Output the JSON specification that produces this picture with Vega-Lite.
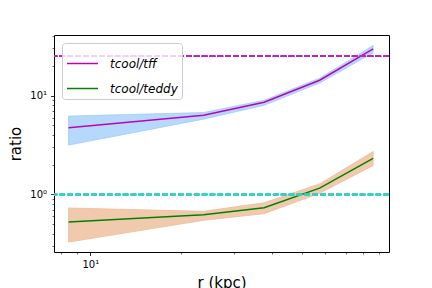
{
  "$schema": "https://vega.github.io/schema/vega-lite/v6.json",
  "autosize": "none",
  "width": 335,
  "height": 217,
  "padding": {"left": 54, "top": 35, "right": 43, "bottom": 36},
  "background": "white",
  "config": {
    "view": {"stroke": "black", "strokeWidth": 1},
    "font": "DejaVu Sans",
    "axis": {"grid": false, "domain": false, "tickColor": "black", "labelColor": "black", "titleColor": "black", "labelFont": "DejaVu Sans", "titleFont": "DejaVu Sans", "titleFontWeight": "normal", "labelFontSize": 10, "titleFontSize": 15}
  },
  "data": {
    "values": [
      {"series": "tcool/tff", "r": 8.47, "y": 4.72, "lo": 3.16, "hi": 6.2},
      {"series": "tcool/tff", "r": 23.7, "y": 6.34, "lo": 5.78, "hi": 6.74},
      {"series": "tcool/tff", "r": 37.6, "y": 8.57, "lo": 7.98, "hi": 8.97},
      {"series": "tcool/tff", "r": 57.4, "y": 14.3, "lo": 13.4, "hi": 15.0},
      {"series": "tcool/tff", "r": 86.3, "y": 29.7, "lo": 27.1, "hi": 32.1},
      {"series": "tcool/teddy", "r": 8.47, "y": 0.527, "lo": 0.33, "hi": 0.73},
      {"series": "tcool/teddy", "r": 23.7, "y": 0.625, "lo": 0.548, "hi": 0.675},
      {"series": "tcool/teddy", "r": 37.6, "y": 0.735, "lo": 0.64, "hi": 0.825},
      {"series": "tcool/teddy", "r": 57.4, "y": 1.16, "lo": 1.03, "hi": 1.28},
      {"series": "tcool/teddy", "r": 86.3, "y": 2.32, "lo": 1.96, "hi": 2.72}
    ]
  },
  "resolve": {"axis": {"x": "independent", "y": "independent"}, "legend": {"color": "independent", "fill": "independent", "stroke": "independent"}},
  "layer": [
    {
      "mark": {"type": "area", "strokeWidth": 0.8},
      "encoding": {
        "x": {"field": "r", "type": "quantitative", "scale": {"type": "log", "domain": [7.58, 97.4], "nice": false, "zero": false},
              "axis": {"orient": "bottom", "values": [8, 9, 20, 30, 40, 50, 60, 70, 80, 90], "labels": false, "tickSize": 2, "tickWidth": 0.6, "title": null}},
        "y": {"field": "lo", "type": "quantitative", "scale": {"type": "log", "domain": [0.262, 41], "nice": false, "zero": false},
              "axis": {"orient": "left", "values": [0.3, 0.4, 0.5, 0.6, 0.7, 0.8, 0.9, 2, 3, 4, 5, 6, 7, 8, 9, 20, 30, 40], "labels": false, "tickSize": 2, "tickWidth": 0.6, "title": null}},
        "y2": {"field": "hi"},
        "fill": {"field": "series", "type": "nominal", "scale": {"domain": ["tcool/tff", "tcool/teddy"], "range": ["#b5d8fb", "#f1caae"]}, "legend": null},
        "stroke": {"field": "series", "type": "nominal", "scale": {"domain": ["tcool/tff", "tcool/teddy"], "range": ["#9fcdf8", "#ebbc9b"]}, "legend": null}
      }
    },
    {
      "mark": {"type": "line", "strokeWidth": 1.5},
      "encoding": {
        "x": {"field": "r", "type": "quantitative", "scale": {"type": "log", "domain": [7.58, 97.4], "nice": false, "zero": false},
              "axis": {"orient": "bottom", "values": [10], "labelExpr": "'10¹'", "tickSize": 3.5, "tickWidth": 0.8, "labelPadding": 4, "title": "r (kpc)", "titlePadding": 6}},
        "y": {"field": "y", "type": "quantitative", "scale": {"type": "log", "domain": [0.262, 41], "nice": false, "zero": false},
              "axis": {"orient": "left", "values": [1, 10], "labelExpr": "datum.value < 5 ? '10⁰' : '10¹'", "tickSize": 3.5, "tickWidth": 0.8, "labelPadding": 4, "title": "ratio", "titlePadding": 6}},
        "color": {"field": "series", "type": "nominal", "scale": {"domain": ["tcool/tff", "tcool/teddy"], "range": ["#bf00bf", "#008000"]},
                  "legend": {"title": null, "orient": "top-left", "offset": 8, "symbolType": "stroke", "symbolSize": 961, "symbolStrokeWidth": 1.5,
                             "labelFontSize": 12, "labelFontStyle": "italic", "labelFont": "DejaVu Sans", "labelColor": "black", "rowPadding": 2, "padding": 4,
                             "strokeColor": "#cccccc", "fillColor": "rgba(255,255,255,0.8)", "cornerRadius": 3, "labelOffset": 11}}
      }
    },
    {
      "mark": {"type": "rule", "strokeDash": [5.5, 2.4], "strokeWidth": 1.5, "color": "#bf20c8"},
      "encoding": {
        "y": {"datum": 25, "type": "quantitative", "scale": {"type": "log", "domain": [0.262, 41], "nice": false, "zero": false}, "axis": null}
      }
    },
    {
      "mark": {"type": "rule", "strokeDash": [5.5, 2.4], "strokeWidth": 1.5, "color": "#30cfc8"},
      "encoding": {
        "y": {"datum": 1, "type": "quantitative", "scale": {"type": "log", "domain": [0.262, 41], "nice": false, "zero": false}, "axis": null}
      }
    }
  ]
}
